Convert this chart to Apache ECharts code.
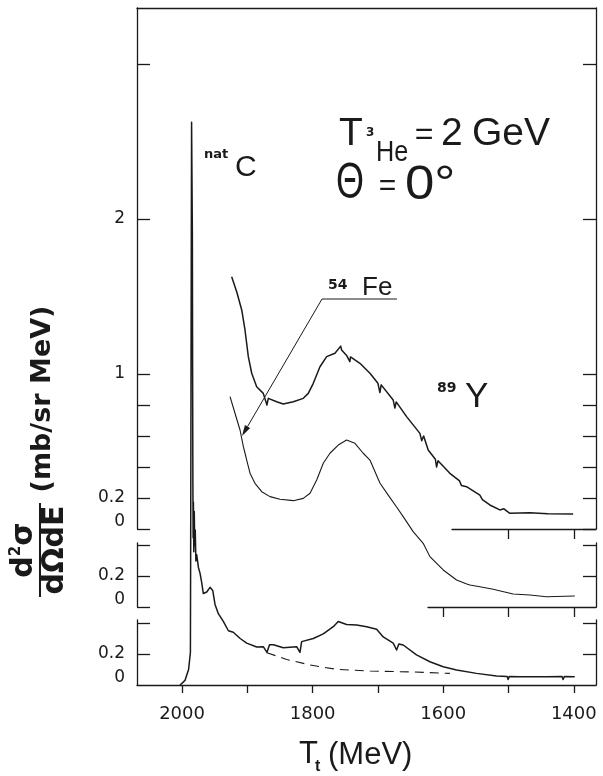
<!DOCTYPE html>
<html>
<head>
<meta charset="utf-8">
<script src="https://cdn.jsdelivr.net/npm/echarts@6/dist/echarts.min.js"></script>
<style>
html, body { margin: 0; padding: 0; background: #fff; }
#chart { width: 603px; height: 776px; }
</style>
</head>
<body>
<div id="chart"></div>
<script>
// T_t in MeV, d2sigma/dOmega dE in mb/(sr MeV); each spectrum sits on its own baseline
const yEnergy = [1924, 1916.3, 1908.6, 1903.6, 1898.5, 1893.3, 1885.7, 1875.6, 1870, 1867.9, 1855.1, 1845, 1829.6, 1814.3, 1806.7, 1799, 1788.8, 1778.5, 1765.8, 1757, 1755.6, 1748, 1743, 1742, 1727.6, 1712.2, 1700, 1697, 1695, 1676.6, 1674, 1672, 1656.1, 1635.7, 1633, 1630, 1623, 1612, 1610.2, 1608, 1589.8, 1575, 1572, 1564.3, 1543.9, 1540, 1528.6, 1513.3, 1507, 1498, 1467.3, 1440, 1401]
const yValues = [1.628, 1.531, 1.413, 1.284, 1.112, 1.005, 0.918, 0.875, 0.80, 0.843, 0.821, 0.806, 0.821, 0.843, 0.875, 0.94, 1.047, 1.112, 1.134, 1.18, 1.155, 1.12, 1.08, 1.11, 1.069, 1.005, 0.94, 0.88, 0.93, 0.832, 0.78, 0.82, 0.725, 0.617, 0.57, 0.6, 0.51, 0.45, 0.40, 0.44, 0.359, 0.31, 0.28, 0.273, 0.219, 0.19, 0.155, 0.123, 0.13, 0.101, 0.105, 0.098, 0.097]

const feEnergy = [1926.5, 1918.9, 1911.2, 1906.1, 1904, 1901, 1895.9, 1888.3, 1878, 1865.3, 1850, 1829.6, 1814.3, 1804, 1793.8, 1783.7, 1773.5, 1760.8, 1748, 1735.2, 1722.5, 1712.2, 1697, 1684, 1671.4, 1661.3, 1646, 1630.7, 1620.4, 1600, 1579.5, 1565, 1559, 1543.9, 1523.5, 1492.9, 1467.3, 1441.8, 1398.5]
const feValues = [1.357, 1.25, 1.142, 1.034, 1.0, 0.948, 0.863, 0.798, 0.744, 0.712, 0.695, 0.686, 0.701, 0.734, 0.819, 0.927, 0.992, 1.045, 1.077, 1.056, 0.992, 0.948, 0.80, 0.72, 0.645, 0.583, 0.486, 0.411, 0.325, 0.239, 0.174, 0.15, 0.142, 0.131, 0.114, 0.084, 0.077, 0.066, 0.071]

const cEnergy = [2003, 1995.4, 1990, 1987.2, 1986.8, 1986.3, 1985.8, 1985.4, 1984.6, 1984.2, 1983.8, 1983.4, 1983.0, 1982.6, 1982, 1981.3, 1980.6, 1979.8, 1978.8, 1977.5, 1975, 1972.4, 1969.9, 1967.4, 1962.2, 1957.1, 1953, 1949.5, 1944.4, 1936.8, 1929, 1921.5, 1911, 1901, 1885.7, 1875.6, 1870, 1866, 1860, 1845, 1824.5, 1819.4, 1816.8, 1799, 1783.7, 1768.4, 1760.8, 1748, 1732.6, 1717.3, 1702, 1691.9, 1676.6, 1671.4, 1668, 1661.3, 1640.9, 1620.4, 1600, 1579.5, 1549, 1518.3, 1502, 1500.6, 1499, 1482.7, 1442, 1418, 1416.4, 1414.5, 1398.5]
const cValues = [0, 0.03, 0.10, 0.21, 0.9, 1.9, 2.9, 3.63, 3.63, 2.9, 2.0, 1.3, 0.95, 1.18, 0.86, 1.12, 0.9, 1.0, 0.8, 0.84, 0.76, 0.72, 0.66, 0.59, 0.60, 0.63, 0.61, 0.52, 0.46, 0.41, 0.35, 0.34, 0.30, 0.27, 0.245, 0.247, 0.21, 0.26, 0.26, 0.24, 0.247, 0.21, 0.28, 0.30, 0.33, 0.376, 0.41, 0.39, 0.387, 0.376, 0.36, 0.31, 0.27, 0.226, 0.265, 0.258, 0.194, 0.15, 0.118, 0.097, 0.075, 0.058, 0.055, 0.035, 0.055, 0.054, 0.054, 0.055, 0.035, 0.055, 0.054]

// background under the natC bump
const bgEnergy = [1870, 1839.8, 1804, 1763.3, 1712.2, 1646, 1589.8]
const bgValues = [0.208, 0.165, 0.129, 0.101, 0.090, 0.084, 0.075]

const xTicks = [1400, 1500, 1600, 1700, 1800, 1900, 2000]
const xLabels = [1400, 1600, 1800, 2000]
const yTopTicks = [0, 0.2, 0.4, 0.6, 0.8, 1, 2, 3]
const yTopLabels = [0, 0.2, 1, 2]
const yMidTicks = [0, 0.2, 0.4]
const yLowTicks = [0.2, 0.4]
const yLowLabels = [0, 0.2]
const topBaseTicks = [1400, 1500]
const midBaseTicks = [1400, 1500, 1600]

const X_MIN = 1366, X_MAX = 2069
const PX_PER_UNIT = 155
const LEFT = 137, RIGHT = 596
const pxPerMeV = (RIGHT - LEFT) / (X_MAX - X_MIN)
const energyAt = px => X_MAX - (px - LEFT) / pxPerMeV

const ink = '#1a1a1a'
const numFont = 'DejaVu Sans'
const letterFont = 'Liberation Sans'

// framed panels, then the two right-hand baseline pieces, then one tall plotting area per spectrum
const panels = [
  { top: 8, bottom: 529 },
  { top: 543, bottom: 607 },
  { top: 620, bottom: 685 }
]
const baseSegments = [
  { left: 452, top: 8, bottom: 529, ticks: topBaseTicks },
  { left: 428, top: 543, bottom: 607, ticks: midBaseTicks }
]
const plotAreas = panels.map(p => ({ top: 8, bottom: p.bottom }))

const pairs = (xs, ys) => xs.map((x, i) => [x, ys[i]])
const lineStyle = { color: ink, width: 1.3 }
const shownLine = { show: true, onZero: false, lineStyle }
const gridBox = (left, top, bottom) => ({ left, width: RIGHT - left, top, height: bottom - top, outerBoundsMode: 'none' })

const grids = panels.map(p => gridBox(LEFT, p.top, p.bottom))
  .concat(baseSegments.map(s => gridBox(s.left, s.top, s.bottom)))
  .concat(plotAreas.map(a => gridBox(LEFT, a.top, a.bottom)))

const hiddenX = (gridIndex, min, max) => ({
  type: 'value', gridIndex, min, max, inverse: true,
  axisLine: { show: false, onZero: false }, axisTick: { show: false }, axisLabel: { show: false }, splitLine: { show: false }
})

const xAxes = [
  Object.assign(hiddenX(0, X_MIN, X_MAX), { position: 'top', axisLine: shownLine }),
  hiddenX(1, X_MIN, X_MAX),
  Object.assign(hiddenX(2, X_MIN, X_MAX), {
    axisLine: shownLine,
    axisTick: { show: true, inside: false, length: 8, customValues: xTicks, lineStyle },
    axisLabel: {
      show: true, customValues: xLabels, margin: 20, formatter: v => String(v),
      fontFamily: numFont, fontSize: 18, color: ink
    }
  })
].concat(baseSegments.map((s, i) => Object.assign(hiddenX(3 + i, X_MIN, energyAt(s.left)), {
  axisLine: shownLine,
  axisTick: { show: true, inside: false, length: 10, customValues: s.ticks, lineStyle }
}))).concat(plotAreas.map((a, i) => hiddenX(5 + i, X_MIN, X_MAX)))

function yAxisFor(gridIndex, position, ticks, labels) {
  const p = panels[gridIndex]
  return {
    type: 'value', gridIndex, position, min: 0, max: (p.bottom - p.top) / PX_PER_UNIT,
    axisLine: shownLine,
    axisTick: { show: true, inside: true, length: 13, customValues: ticks, lineStyle },
    axisLabel: labels ? {
      show: true, customValues: labels, margin: 12,
      formatter: v => v === 0 ? '{z|0}' : String(v),
      fontFamily: numFont, fontSize: 17, color: ink,
      rich: { z: { fontFamily: numFont, fontSize: 17, color: ink, padding: [0, 0, 14, 0] } }
    } : { show: false },
    splitLine: { show: false }
  }
}

const yAxes = [
  yAxisFor(0, 'left', yTopTicks, yTopLabels),
  yAxisFor(0, 'right', yTopTicks, null),
  yAxisFor(1, 'left', yMidTicks, yLowLabels),
  yAxisFor(1, 'right', yLowTicks, null),
  yAxisFor(2, 'left', yLowTicks, yLowLabels),
  yAxisFor(2, 'right', yLowTicks, null),
  { type: 'value', gridIndex: 3, min: 0, max: 1, show: false },
  { type: 'value', gridIndex: 4, min: 0, max: 1, show: false }
].concat(plotAreas.map((a, i) => ({
  type: 'value', gridIndex: 5 + i, min: 0, max: (a.bottom - a.top) / PX_PER_UNIT, show: false
})))

// plot area i uses xAxis 5 + i and yAxis 8 + i
const spectrum = (name, xs, ys, area, width) => ({
  name, type: 'line', xAxisIndex: 5 + area, yAxisIndex: 8 + area, data: pairs(xs, ys),
  symbol: 'none', clip: false, silent: true,
  lineStyle: { color: ink, width, join: 'round' }
})

function txt(text, x, y, size, opts) {
  const o = opts || {}
  return {
    type: 'text', x, y, scaleX: o.scaleX || 1, silent: true,
    style: {
      text, fontSize: size, fontFamily: o.font || letterFont, fontWeight: o.weight || 'normal',
      fill: ink, align: o.align || 'left', verticalAlign: o.valign || 'middle', rich: o.rich
    }
  }
}

// arrow from the 54Fe label to its spectrum
const arrowFrom = [322, 299], arrowTip = [242, 436]
const dx = arrowTip[0] - arrowFrom[0], dy = arrowTip[1] - arrowFrom[1]
const len = Math.hypot(dx, dy), ux = dx / len, uy = dy / len
const headBase = [arrowTip[0] - 11 * ux, arrowTip[1] - 11 * uy]

const graphics = [
  txt('nat', 204, 155, 13, { font: numFont, weight: 'bold' }),
  txt('C', 235, 168, 30),
  txt('T', 339, 134, 39),
  txt('3', 366, 132.5, 12, { font: numFont, weight: 'bold' }),
  txt('He', 376, 152.5, 29, { scaleX: 0.87 }),
  txt('=', 424, 135, 32, { align: 'center' }),
  txt('2', 441, 134, 39),
  txt('GeV', 472, 134, 39),
  txt('\u0398', 336, 184, 50, { scaleX: 0.72 }),
  txt('=', 387.5, 187, 30, { align: 'center' }),
  txt('0\u00b0', 405, 186, 48, { scaleX: 1.1 }),
  txt('54', 328, 285, 14, { font: numFont, weight: 'bold' }),
  txt('Fe', 362, 287.5, 26),
  txt('89', 437, 388, 14, { font: numFont, weight: 'bold' }),
  txt('Y', 465, 397.5, 35),
  {
    type: 'polyline', silent: true,
    shape: { points: [[397, 299], arrowFrom, headBase] },
    style: { stroke: ink, lineWidth: 1, fill: null }
  },
  {
    type: 'polygon', silent: true,
    shape: { points: [arrowTip, [headBase[0] + 3 * uy, headBase[1] - 3 * ux], [headBase[0] - 3 * uy, headBase[1] + 3 * ux]] },
    style: { fill: ink }
  },
  // x axis title
  txt('T', 299, 754, 31),
  txt('t', 315, 767, 16, { weight: 'bold' }),
  txt('(MeV)', 328, 755, 31),
  // y axis title, rotated to read upwards
  {
    type: 'group', x: 43, y: 399, rotation: Math.PI / 2, silent: true,
    children: [txt('(mb/sr MeV)', 0, 0, 27, { font: numFont, weight: 'bold', align: 'center' })]
  },
  {
    type: 'group', x: 40, y: 550, rotation: Math.PI / 2, silent: true,
    children: [
      { type: 'line', shape: { x1: -47, y1: 0, x2: 47, y2: 0 }, style: { stroke: ink, lineWidth: 2 } },
      txt('{b|d}{s|2}{b|\u03c3}', 0, -1, 30, {
        font: numFont, weight: 'bold', align: 'center', valign: 'bottom',
        rich: {
          b: { fontFamily: numFont, fontWeight: 'bold', fontSize: 30, fill: ink },
          s: { fontFamily: numFont, fontWeight: 'bold', fontSize: 15, fill: ink, verticalAlign: 'top' }
        }
      }),
      txt('d\u03a9dE', 0, 0, 30, { font: numFont, weight: 'bold', align: 'center', valign: 'top' })
    ]
  }
]

const chart = echarts.init(document.getElementById('chart'), null, { renderer: 'canvas' })
chart.setOption({
  animation: false,
  backgroundColor: '#fff',
  grid: grids,
  xAxis: xAxes,
  yAxis: yAxes,
  series: [
    spectrum('89Y', yEnergy, yValues, 0, 1.5),
    spectrum('54Fe', feEnergy, feValues, 1, 1.1),
    spectrum('natC', cEnergy, cValues, 2, 1.5),
    Object.assign(spectrum('background', bgEnergy, bgValues, 2, 1.1), {
      lineStyle: { color: ink, width: 1.1, type: [9, 6] }
    })
  ],
  graphic: { elements: graphics }
})
</script>
</body>
</html>
